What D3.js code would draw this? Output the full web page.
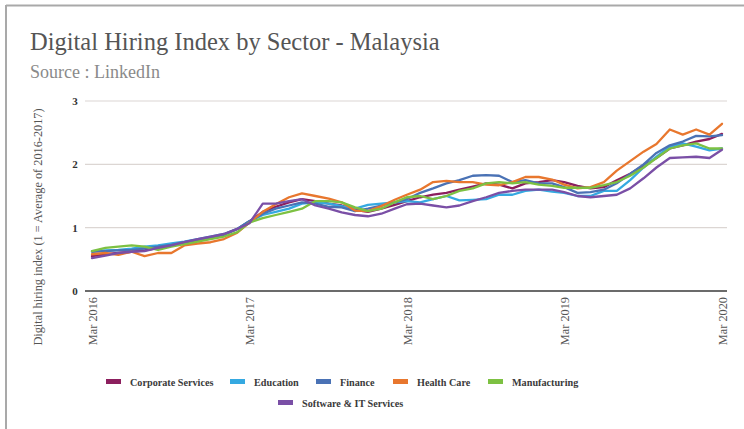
<!DOCTYPE html>
<html><head><meta charset="utf-8">
<script src="https://cdn.jsdelivr.net/npm/d3@7"></script>
<style>html,body{margin:0;padding:0;background:#fff;}svg{display:block;}</style>
</head><body>
<svg id="c" width="744" height="429"></svg>
<script>
const seriesNames = ["Corporate Services","Education","Finance","Health Care","Manufacturing","Software & IT Services"];
const seriesColors = ["#8c1f5e","#35a9e1","#4a72b5","#e8772e","#7dc142","#7a4fa6"];
const startMonth = "2016-03";
const xTickLabels = ["Mar 2016","Mar 2017","Mar 2018","Mar 2019","Mar 2020"];
const yTicks = [0,1,2,3];

const corporate = [0.55,0.58,0.60,0.62,0.64,0.68,0.72,0.76,0.80,0.84,0.89,0.98,1.10,
1.25,1.33,1.40,1.45,1.42,1.38,1.35,1.28,1.25,1.30,1.36,1.42,
1.48,1.52,1.55,1.60,1.65,1.70,1.68,1.62,1.70,1.72,1.75,1.72,
1.66,1.62,1.64,1.75,1.85,1.98,2.10,2.25,2.30,2.36,2.40,2.48];
const education = [0.63,0.64,0.65,0.67,0.70,0.72,0.75,0.78,0.82,0.86,0.90,0.98,1.10,
1.20,1.25,1.30,1.38,1.40,1.38,1.34,1.30,1.36,1.38,1.40,1.42,
1.40,1.45,1.50,1.43,1.44,1.45,1.52,1.52,1.58,1.60,1.57,1.55,
1.50,1.50,1.58,1.58,1.75,1.95,2.12,2.28,2.33,2.28,2.22,2.25];
const finance = [0.62,0.63,0.64,0.65,0.67,0.70,0.73,0.77,0.81,0.85,0.89,0.98,1.10,
1.22,1.30,1.35,1.40,1.38,1.33,1.32,1.26,1.30,1.35,1.40,1.45,
1.55,1.62,1.70,1.75,1.82,1.83,1.82,1.72,1.75,1.70,1.70,1.64,
1.55,1.56,1.60,1.70,1.85,2.00,2.18,2.30,2.36,2.45,2.44,2.46];
const healthCare = [0.58,0.60,0.57,0.62,0.55,0.60,0.60,0.72,0.75,0.77,0.82,0.92,1.08,
1.25,1.37,1.48,1.54,1.50,1.46,1.40,1.27,1.26,1.34,1.44,1.52,
1.60,1.72,1.74,1.72,1.72,1.68,1.67,1.72,1.80,1.80,1.76,1.68,
1.62,1.64,1.72,1.90,2.05,2.20,2.32,2.55,2.47,2.55,2.47,2.64];
const manufacturing = [0.63,0.68,0.70,0.72,0.70,0.65,0.70,0.74,0.78,0.82,0.86,0.93,1.08,
1.15,1.20,1.25,1.30,1.42,1.42,1.40,1.32,1.26,1.30,1.40,1.48,
1.50,1.45,1.50,1.58,1.62,1.70,1.72,1.70,1.72,1.68,1.66,1.63,
1.63,1.63,1.67,1.72,1.82,1.95,2.10,2.25,2.30,2.33,2.25,2.25];
const software = [0.52,0.56,0.60,0.62,0.63,0.68,0.72,0.77,0.82,0.86,0.90,0.98,1.07,
1.38,1.38,1.42,1.45,1.35,1.30,1.24,1.20,1.18,1.22,1.30,1.37,
1.38,1.35,1.32,1.35,1.42,1.48,1.55,1.58,1.60,1.60,1.60,1.56,
1.50,1.48,1.50,1.52,1.62,1.78,1.95,2.10,2.11,2.12,2.10,2.23];

const seriesValues = [corporate, education, finance, healthCare, manufacturing, software];

const parse = d3.timeParse("%Y-%m");
const t0 = parse(startMonth);
const dates = corporate.map((_, i) => d3.timeMonth.offset(t0, i));

const svg = d3.select("#c");
const serif = "'Liberation Serif','Times New Roman',serif";

// frame
svg.append("line").attr("x1",6).attr("x2",744).attr("y1",5.5).attr("y2",5.5).attr("stroke","#a9a9a9").attr("stroke-width",2);
svg.append("line").attr("x1",6).attr("x2",6).attr("y1",5).attr("y2",429).attr("stroke","#a9a9a9").attr("stroke-width",2);

svg.append("text").attr("x",30).attr("y",50).attr("font-family",serif).attr("font-size",24.5)
  .attr("fill","#555").text("Digital Hiring Index by Sector - Malaysia");
svg.append("text").attr("x",30).attr("y",78).attr("font-family",serif).attr("font-size",18)
  .attr("fill","#8a8a8a").text("Source : LinkedIn");

const x = d3.scaleTime().domain([dates[0], dates[dates.length-1]]).range([92, 722]);
const y = d3.scaleLinear().domain([0,3]).range([291, 101]);

const left = 85, right = 727;
// grid
svg.append("g").selectAll("line").data(yTicks.filter(d=>d>0)).join("line")
  .attr("x1",left).attr("x2",right).attr("y1",d=>y(d)).attr("y2",d=>y(d))
  .attr("stroke","#dcd6d3").attr("stroke-width",1.2);
// y labels
svg.append("g").selectAll("text").data(yTicks).join("text")
  .attr("x",75).attr("y",d=>y(d)+4).attr("text-anchor","middle")
  .attr("font-family",serif).attr("font-size",11).attr("font-weight","bold").attr("fill","#333")
  .text(d=>d);

// lines
const line = d3.line().x((d,i)=>x(dates[i])).y(d=>y(d));
svg.append("g").selectAll("path").data(seriesValues).join("path")
  .attr("d", d=>line(d)).attr("fill","none")
  .attr("stroke",(d,i)=>seriesColors[i]).attr("stroke-width",2.3)
  .attr("stroke-linejoin","round").attr("stroke-linecap","round");

// x axis baseline
svg.append("line").attr("x1",left).attr("x2",right).attr("y1",y(0)).attr("y2",y(0))
  .attr("stroke","#3a3a3a").attr("stroke-width",1.6);

// x tick labels
const xTickDates = xTickLabels.map((_,k)=>d3.timeMonth.offset(t0, 12*k));
svg.append("g").selectAll("text").data(xTickDates).join("text")
  .attr("transform",(d)=>`translate(${x(d)+5},297) rotate(-90)`)
  .attr("text-anchor","end").attr("font-family",serif).attr("font-size",12.3).attr("fill","#555")
  .text((d,i)=>xTickLabels[i]);

// y axis title
svg.append("text").attr("transform","translate(42,227) rotate(-90)").attr("text-anchor","middle")
  .attr("font-family",serif).attr("font-size",12.3).attr("fill","#555")
  .text("Digital hiring index (1 = Average of 2016-2017)");

// legend
const legendPos = [[106,382],[230,382],[316,382],[393,382],[488,382],[278,403]];
const lg = svg.append("g").selectAll("g").data(seriesNames).join("g")
  .attr("transform",(d,i)=>`translate(${legendPos[i][0]},${legendPos[i][1]})`);
lg.append("rect").attr("x",0).attr("y",-3).attr("width",15).attr("height",5).attr("fill",(d,i)=>seriesColors[i]);
lg.append("text").attr("x",24).attr("y",3.5).attr("font-family",serif).attr("font-size",10.2)
  .attr("font-weight","bold").attr("fill","#3a3a3a").text(d=>d);
</script>
</body></html>
